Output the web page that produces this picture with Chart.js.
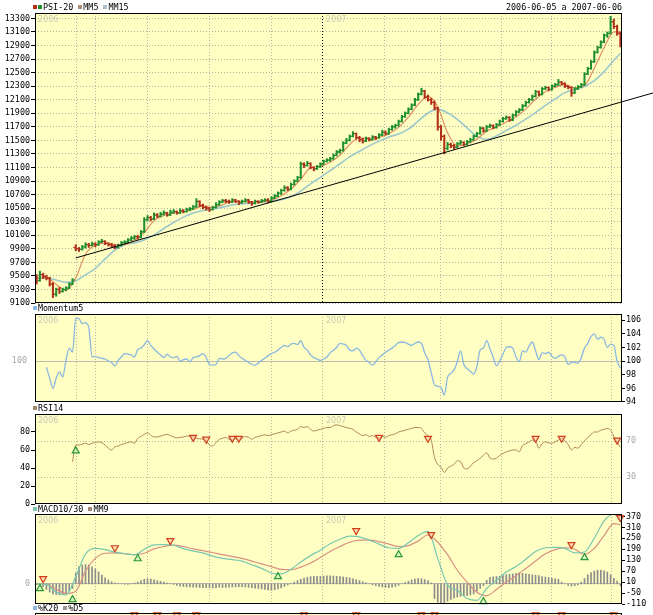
<!DOCTYPE html>
<html>
<head>
<meta charset="utf-8">
<title>PSI-20</title>
<script src="https://cdn.jsdelivr.net/npm/chart.js@4.4.1/dist/chart.umd.min.js"></script>
<style>
  body { margin: 0; width: 653px; height: 615px; overflow: hidden; background: #fff; position: relative;
         font-family: 'DejaVu Sans Mono', monospace; font-size: 8.4px; color: #000; }
  canvas { position: absolute; left: 0; }
  .lbl { position: absolute; white-space: nowrap; line-height: 9px; z-index: 2; }
  .sq { display: inline-block; width: 4px; height: 4px; margin-right: 1px; vertical-align: 1px; }
</style>
</head>
<body>
<div class="lbl" style="left:33px;top:3px"><span class="sq" style="background:#b03018"></span><span class="sq" style="background:#1f8f2f"></span>PSI-20 <span class="sq" style="background:#a89070"></span>MM5 <span class="sq" style="background:#a8c4cc"></span>MM15</div>
<div class="lbl" style="right:31px;top:3px">2006-06-05 a 2007-06-06</div>
<div class="lbl" style="left:33px;top:304px"><span class="sq" style="background:#8ab8e0"></span>Momentum5</div>
<div class="lbl" style="left:33px;top:404px"><span class="sq" style="background:#a08870"></span>RSI14</div>
<div class="lbl" style="left:33px;top:505px"><span class="sq" style="background:#78c8b0"></span>MACD10/30 <span class="sq" style="background:#a08878"></span>MM9</div>
<div class="lbl" style="left:33px;top:604px"><span class="sq" style="background:#8ab8e0"></span>%K20 <span class="sq" style="background:#a09890"></span>%D5</div>

<canvas id="price" width="653" height="312" style="top:0"></canvas>
<canvas id="mom" width="653" height="106" style="top:305px"></canvas>
<canvas id="rsi" width="653" height="106" style="top:406px"></canvas>
<canvas id="macd" width="653" height="109" style="top:506px"></canvas>
<canvas id="stoch" width="653" height="50" style="top:604px"></canvas>

<script>
// ---- data ----
const yearNames = ['2006', '2007'];
// x positions (bar index) of the dotted month lines, the 2007 one drawn dark
const monthLines = [12.1, 18.2, 33.9, 52.9, 71.9, 87.8, 106.6, 123.7, 142.4, 157.8, 176.2];
const yearLine = 87.8;

const opens = [
  9480, 9430, 9520, 9490, 9470, 9380, 9230, 9300, 9270, 9300, 9320, 9380,
  9920, 9900, 9890, 9930, 9960, 9950, 9970, 9960, 10000, 10010, 9980, 9960, 9940, 9920, 9950, 9990, 10000, 10030, 10060, 10080, 10070, 10150,
  10330, 10360, 10340, 10400, 10380, 10410, 10430, 10400, 10440, 10450, 10430, 10460, 10450, 10480, 10490, 10520, 10600, 10540, 10510, 10500, 10480, 10510,
  10550, 10590, 10610, 10600, 10590, 10620, 10600, 10580, 10600, 10620, 10590, 10570, 10600, 10590, 10610, 10620,
  10600, 10650, 10680, 10720, 10760, 10800, 10780, 10850, 10900, 10950, 11150, 11130, 11160, 11100, 11080, 11110, 11150, 11190, 11210,
  11230, 11280, 11330, 11350, 11460, 11500, 11560, 11600, 11540, 11510, 11490, 11530, 11510, 11550, 11540, 11580, 11620, 11600, 11660, 11700,
  11720, 11780, 11850, 11900, 11960, 12020, 12100, 12180, 12230, 12140, 12100, 12060, 11980, 11700, 11560, 11380,
  11440, 11420, 11400, 11450, 11470, 11440, 11480, 11510, 11560, 11600, 11680, 11640, 11700, 11720, 11690, 11730, 11780, 11820, 11840, 11800, 11870, 11920, 11950, 12010,
  12060, 12100, 12150, 12220, 12180, 12260, 12280, 12250, 12300, 12320, 12360, 12340, 12300, 12280, 12200, 12260, 12290, 12320, 12480, 12560, 12660, 12800, 12870, 12950, 13050, 13080, 13250, 13180, 13080
];
const highs = [
  9520, 9570, 9540, 9510, 9480, 9400, 9320, 9330, 9320, 9340, 9400, 9460,
  9960, 9920, 9950, 9990, 9980, 10000, 9990, 10020, 10040, 10020, 9990, 9980, 9960, 9970, 10010, 10020, 10050, 10080, 10100, 10100, 10170, 10360,
  10390, 10380, 10430, 10420, 10440, 10460, 10440, 10470, 10480, 10460, 10490, 10480, 10500, 10510, 10540, 10640, 10610, 10560, 10530, 10510, 10530, 10580,
  10610, 10630, 10630, 10620, 10640, 10630, 10610, 10620, 10640, 10630, 10600, 10620, 10610, 10630, 10640, 10640,
  10670, 10700, 10740, 10780, 10830, 10820, 10870, 10920, 10970, 11180, 11170, 11190, 11170, 11110, 11130, 11170, 11210, 11230, 11250,
  11300, 11350, 11370, 11480, 11530, 11580, 11630, 11610, 11560, 11530, 11550, 11540, 11570, 11560, 11600, 11650, 11640, 11680, 11720, 11740,
  11800, 11870, 11920, 11980, 12040, 12120, 12200, 12270, 12240, 12170, 12120, 12080, 11990, 11720, 11580, 11470,
  11460, 11440, 11470, 11500, 11480, 11500, 11530, 11580, 11620, 11700, 11690, 11720, 11740, 11730, 11750, 11800, 11840, 11860, 11850, 11890, 11940, 11970, 12030, 12080,
  12120, 12170, 12240, 12230, 12280, 12300, 12290, 12320, 12340, 12400, 12370, 12350, 12310, 12290, 12280, 12310, 12340, 12500, 12580, 12680, 12820, 12890, 12970, 13070, 13100, 13330, 13290, 13200, 13100
];
const lows = [
  9380, 9420, 9460, 9440, 9350, 9180, 9200, 9240, 9260, 9280, 9310, 9370,
  9870, 9860, 9880, 9910, 9920, 9940, 9930, 9950, 9990, 9960, 9940, 9920, 9900, 9910, 9940, 9970, 9990, 10020, 10040, 10040, 10060, 10140,
  10310, 10310, 10330, 10360, 10370, 10400, 10380, 10390, 10420, 10410, 10420, 10430, 10440, 10460, 10480, 10510, 10520, 10490, 10470, 10450, 10470, 10500,
  10540, 10580, 10580, 10570, 10580, 10580, 10550, 10570, 10590, 10570, 10540, 10560, 10570, 10580, 10600, 10580,
  10590, 10640, 10670, 10700, 10750, 10760, 10770, 10840, 10890, 10940, 11100, 11120, 11080, 11050, 11070, 11100, 11140, 11180, 11190,
  11220, 11270, 11310, 11340, 11450, 11490, 11550, 11520, 11480, 11460, 11480, 11490, 11500, 11510, 11530, 11570, 11580, 11590, 11650, 11680,
  11710, 11770, 11840, 11890, 11950, 12010, 12090, 12170, 12120, 12080, 12030, 11950, 11650, 11500, 11300, 11360,
  11390, 11370, 11390, 11440, 11420, 11430, 11470, 11500, 11550, 11590, 11620, 11630, 11690, 11670, 11680, 11720, 11770, 11810, 11780, 11790, 11860, 11910, 11940, 12000,
  12050, 12090, 12140, 12160, 12170, 12250, 12230, 12240, 12290, 12310, 12320, 12280, 12260, 12150, 12190, 12250, 12280, 12310, 12470, 12550, 12650, 12790, 12860, 12940, 13020, 13070, 13150, 13050, 12880
];
const closes = [
  9430, 9520, 9490, 9470, 9380, 9230, 9300, 9270, 9300, 9320, 9380, 9440,
  9900, 9890, 9930, 9960, 9950, 9970, 9960, 10000, 10010, 9980, 9960, 9940, 9920, 9950, 9990, 10000, 10030, 10060, 10080, 10070, 10150, 10330,
  10360, 10340, 10400, 10380, 10410, 10430, 10400, 10440, 10450, 10430, 10460, 10450, 10480, 10490, 10520, 10600, 10540, 10510, 10500, 10480, 10510, 10550,
  10590, 10610, 10600, 10590, 10620, 10600, 10580, 10600, 10620, 10590, 10570, 10600, 10590, 10610, 10620, 10600,
  10650, 10680, 10720, 10760, 10800, 10780, 10850, 10900, 10950, 11150, 11130, 11160, 11100, 11080, 11110, 11150, 11190, 11210, 11230,
  11280, 11330, 11350, 11460, 11500, 11560, 11600, 11540, 11510, 11490, 11530, 11510, 11550, 11540, 11580, 11620, 11600, 11660, 11700, 11720,
  11780, 11850, 11900, 11960, 12020, 12100, 12180, 12230, 12140, 12100, 12060, 11980, 11700, 11560, 11380, 11440,
  11420, 11400, 11450, 11470, 11440, 11480, 11510, 11560, 11600, 11680, 11640, 11700, 11720, 11690, 11730, 11780, 11820, 11840, 11800, 11870, 11920, 11950, 12010, 12060,
  12100, 12150, 12220, 12180, 12260, 12280, 12250, 12300, 12320, 12360, 12340, 12300, 12280, 12200, 12260, 12290, 12320, 12480, 12560, 12660, 12800, 12870, 12950, 13050, 13080, 13250, 13180, 13080, 12920
];
// moving averages, read every 3rd bar (plus the last one)
const mm5 = [9460, 9474, 9374, 9284, 9468, 9824, 9954, 9984, 9962, 9960, 10032, 10138, 10316, 10392, 10426,
  10446, 10480, 10532, 10508, 10548, 10602, 10598, 10592, 10592, 10614, 10682, 10782, 10926, 11098, 11120,
  11178, 11280, 11440, 11542, 11516, 11542, 11600, 11692, 11842, 12032, 12150, 11996, 11612, 11418, 11448,
  11518, 11636, 11696, 11772, 11850, 11962, 12108, 12218, 12282, 12324, 12276, 12310, 12564, 12866, 13102, 13102];
const mm15 = [9480, 9470, 9440, 9404, 9425, 9519, 9612, 9751, 9879, 9961, 9987, 10031, 10105, 10199, 10289,
  10367, 10429, 10466, 10484, 10515, 10546, 10565, 10574, 10595, 10603, 10626, 10669, 10751, 10857, 10955,
  11053, 11155, 11256, 11340, 11419, 11489, 11550, 11595, 11666, 11784, 11904, 11961, 11907, 11811, 11683,
  11563, 11515, 11566, 11644, 11724, 11814, 11911, 12016, 12111, 12205, 12253, 12295, 12381, 12515, 12682, 12783];
// trend line: [bar index, price] at both ends
const trendFrom = [12, 9765];
const trendTo = [189, 12200];

const momentum = [null, null, null,
  99.1, 97.5, 96.0, 97.5, 98.4, 97.7, 100.1, 101.9, 101.3,
  106.3, 106.2, 105.5, 105.6, 104.9, 100.6,
  100.7, 100.5, 100.4, 100.3, 100.0, 99.8, 99.3, 100.1, 100.6, 101.1, 101.0, 100.9, 100.6, 101.7, 101.9, 102.4, 103.0, 102.3, 101.8, 101.3,
  100.9, 100.5, 101.0, 100.6, 100.5, 100.7, 100.0, 100.2, 100.3, 99.9, 100.5, 100.6, 100.8, 101.1, 100.5, 99.5, 99.4, 99.5, 100.4,
  100.3, 100.4, 100.8, 101.2, 101.3, 100.8, 100.4, 100.1, 99.8, 99.5, 99.4, 99.7, 100.1, 100.4, 100.8, 101.1, 101.3, 101.6, 102.0, 102.3,
  102.1, 102.5, 102.6, 102.4, 103.0, 102.0, 101.6, 100.9, 100.5, 100.3, 100.1, 100.3, 100.6, 101.2, 101.6, 102.0, 102.6, 102.5, 102.3, 101.6,
  101.5, 101.9, 101.6, 100.8, 100.1, 99.8, 99.4, 99.9, 100.5, 100.9, 101.3, 101.6, 101.9, 102.3, 102.7, 102.8, 102.7, 102.5, 102.3, 102.6,
  102.8, 102.6, 101.2, 100.2,
  98.3, 96.5, 96.3, 96.2, 95.0, 97.6, 98.2, 98.7, 99.9, 101.5, 99.5, 98.9, 98.5, 98.1, 99.2, 101.6, 101.9, 103.0, 101.8, 100.6,
  99.3, 100.0, 101.0, 102.0, 102.1, 101.9, 100.6, 99.9, 101.5, 101.3, 102.2, 102.8, 101.5, 100.2, 101.2, 101.1, 101.3, 100.7, 100.4, 100.7,
  100.9, 100.6, 99.5, 99.8, 99.8, 99.7, 100.5, 101.9, 102.6, 103.6, 104.0, 103.2, 103.5, 103.2, 102.0, 102.5, 102.3, 100.0, 99.0
];

const rsi = [null, null, null, null, null, null, null, null, null, null, null,
  47, 65.5, 65.5, 66.5, 67.5, 66, 67.5, 68.5, 69, 68, 65.5, 62, 60, 63.5, 64.5, 66, 67, 68.5, 69, 67.5,
  73, 75, 77.5, 79, 76.5, 74.5, 74.5, 75.5, 76.5, 77.5, 76, 74.5, 73.5, 74, 74.5, 75.5, 75.5, 75, 73, 72.5, 72, 70, 65.5, 64.5, 68, 72,
  73, 74, 72, 71, 73, 71, 73, 75, 74, 72, 74, 75, 76, 77, 76, 77, 78, 79, 80, 81, 79, 81, 82, 83, 86, 85, 86, 83, 81, 82,
  83, 84, 85, 85, 87, 88, 87, 86, 85, 84, 83, 80, 78, 76, 77, 75, 76, 74, 73, 75, 74, 76, 77, 78, 80, 81, 82, 83, 84, 85, 85, 84, 79, 76, 71,
  52, 44, 41, 35, 40, 42, 44, 48, 47, 40, 39, 42, 46, 48, 51, 54, 57, 51, 50, 51, 54, 56, 58, 59, 60, 60, 58, 65, 67, 69,
  71, 70, 62, 67, 69, 68, 67.5, 69, 71, 73, 70, 66, 60, 63, 62, 66, 70, 74, 77, 80, 80, 82, 83, 84, 82, 75, 69, 63
];
const rsiSellIdx = [48, 52, 60, 62, 105, 120, 153, 161, 178];
const rsiSellVal = [74, 72, 73, 73, 74, 73, 73, 73, 71];
const rsiBuyIdx = [12];
const rsiBuyVal = [59];

// MACD line and its MM9, read every 3rd bar (plus the last one)
const macdLine = [0, -3, -45, -60, 40, 165, 195, 188, 174, 166, 159, 190, 214, 215, 212,
  193, 180, 170, 152, 140, 133, 125, 105, 85, 60, 55, 80, 120, 155, 185,
  220, 245, 262, 258, 240, 218, 198, 195, 225, 265, 288, 140, -5, -35, -80,
  -90, -25, 20, 65, 95, 135, 178, 198, 200, 195, 170, 175, 250, 345, 383, 345];
const macdSignal = [0, -3, -30, -52, -40, 70, 140, 168, 170, 166, 161, 168, 192, 205, 212,
  205, 192, 182, 172, 160, 150, 140, 125, 110, 95, 80, 78, 92, 115, 145,
  178, 205, 228, 240, 240, 232, 218, 205, 210, 235, 268, 228, 160, 75, 10,
  -45, -65, -30, 10, 45, 85, 125, 165, 188, 198, 190, 162, 195, 265, 330, 325];
const macdHist = [
  -5, -10, -15, -30, -45, -55, -58, -60, -55, -50, -40, -25,
  60, 95, 104, 106, 104, 93, 82, 66, 49, 33, 22, 12, 5, 2, 0, -2, -3, 0, 5,
  10, 18, 25, 28, 27, 22, 18, 14, 10, 5, 2, -3, -8, -12, -14, -16, -17, -18, -18, -19, -20, -20, -21, -22, -20, -18,
  -20, -19, -18, -17, -16, -15, -15, -17, -19, -21, -23, -25, -27, -30, -33, -35, -32, -28, -22, -14, -6, 2, 10, 18, 26,
  32, 36, 40, 41, 42, 42, 43, 44, 44, 43, 42, 40, 38, 36, 33, 28, 23, 18, 12, 6, 0, -5, -10, -14, -17, -19, -20, -18, -14, -8,
  0, 8, 15, 22, 27, 30, 28, 24, 18, 5,
  -80, -100, -105, -103, -95, -85, -78, -72, -68, -65, -65, -60, -55, -40, -25, -10, 20, 35, 38, 40, 42, 45, 50, 52, 55,
  58, 60, 58, 55, 52, 50, 48, 45, 40, 38, 35, 30, 28, 25, 10, 0, -8, -12, -10, -5, 10, 30, 50, 62, 70, 75, 75, 72, 65, 50, 30, 15, -10
];
const macdBuyIdx = [1, 11, 31, 74, 111, 137, 168];
const macdBuyVal = [-26, -86, 138, 40, 160, -97, 144];
const macdSellIdx = [2, 24, 41, 98, 121, 164, 179];
const macdSellVal = [29, 198, 237, 292, 270, 215, 363];

const stochSellIdx = [30, 37, 43, 49, 82, 98, 118, 122, 153, 161, 177];
const stochSellVal = [95, 95, 95, 95, 95, 95, 95, 95, 95, 95, 95];

const priceTicks = [9100, 9300, 9500, 9700, 9900, 10100, 10300, 10500, 10700, 10900, 11100,
  11300, 11500, 11700, 11900, 12100, 12300, 12500, 12700, 12900, 13100, 13300];
const momTicks = [94, 96, 98, 100, 102, 104, 106];
const rsiTicks = [0, 20, 40, 60, 80];
const rsiBands = [30, 70];
const macdTicks = [-110, -50, 10, 70, 130, 190, 250, 310, 370];

// ---- styling ----
const plotBg = '#ffffc4';
const upColor = '#1f8f2f';
const downColor = '#b03018';
const gridGray = '#b4b4a0';
const tickFont = {family: 'DejaVu Sans Mono', size: 8.4};

Chart.defaults.animation = false;
Chart.defaults.font.family = 'DejaVu Sans Mono';

const N = closes.length;
const idx = closes.map((c, i) => i);
const smoothIdx = [];
for (let i = 0; i < N; i += 3) smoothIdx.push(i);
smoothIdx.push(N - 1);

function xAxis(darkYear) {
  return {
    type: 'linear', min: -0.5, max: N - 0.5, offset: false,
    afterBuildTicks: s => { s.ticks = monthLines.map(v => ({value: v})); },
    afterFit: s => { s.height = 0; },
    ticks: {display: false},
    grid: {
      offset: false, drawTicks: false, lineWidth: 1,
      color: c => (darkYear && c.tick && c.tick.value === yearLine) ? '#000' : gridGray
    },
    border: {display: false, dash: [1, 2]}
  };
}

function yAxis(o) {
  return {
    type: 'linear', position: o.pos, min: o.min, max: o.max,
    afterBuildTicks: s => { s.ticks = (o.ticks || []).map(v => ({value: v})); },
    afterFit: s => { s.width = o.pos === 'left' ? 35 : 31; },
    ticks: {
      display: !!o.ticks, font: o.font || tickFont, color: o.labelColor || '#000',
      padding: o.pad == null ? 1 : o.pad, autoSkip: false, callback: v => String(v)
    },
    grid: {
      display: !!o.ticks, drawOnChartArea: !!o.gridColor, color: o.gridColor || 'rgba(0,0,0,0)',
      drawTicks: true, tickLength: o.tickLen == null ? 4 : o.tickLen,
      tickColor: o.tickColor || '#000', tickBorderDash: []
    },
    border: {display: false, dash: o.dash || []}
  };
}

const panelPlugin = {
  id: 'panel',
  beforeDraw(chart) {
    const {ctx, chartArea: a} = chart;
    ctx.save();
    ctx.fillStyle = plotBg;
    ctx.fillRect(a.left, a.top, a.right - a.left, a.bottom - a.top);
    ctx.restore();
  },
  beforeDatasetsDraw(chart) {
    const {ctx, chartArea: a} = chart;
    ctx.save();
    ctx.fillStyle = '#c8c8b8';
    ctx.font = '8px "DejaVu Sans"';
    ctx.textBaseline = 'top';
    ctx.fillText(yearNames[0], a.left + 3, a.top + 3);
    ctx.fillText(yearNames[1], chart.scales.x.getPixelForValue(yearLine) + 3, a.top + 3);
    ctx.restore();
  },
  afterDraw(chart) {
    const {ctx, chartArea: a} = chart;
    ctx.save();
    ctx.strokeStyle = '#000';
    ctx.lineWidth = 1;
    ctx.strokeRect(Math.round(a.left) + 0.5, Math.round(a.top) + 0.5,
      Math.round(a.right - a.left) - 1, Math.round(a.bottom - a.top) - 1);
    ctx.restore();
  }
};

function baseOptions(padTop, padBottom, darkYear, scales) {
  return {
    responsive: false, animation: false, events: [],
    layout: {padding: {top: padTop, bottom: padBottom, left: 0, right: 0}},
    plugins: {legend: {display: false}, tooltip: {enabled: false}},
    scales: Object.assign({x: xAxis(darkYear)}, scales)
  };
}

function lineSet(xs, ys, color, order, width) {
  const pts = [];
  xs.forEach((x, k) => { if (ys[k] != null) pts.push({x: x, y: ys[k]}); });
  return {type: 'line', data: pts, borderColor: color, borderWidth: width || 1, pointRadius: 0,
    cubicInterpolationMode: 'monotone', order: order};
}

function marks(xs, ys, down) {
  return {
    type: 'line', data: xs.map((x, k) => ({x: x, y: ys[k]})), showLine: false,
    pointStyle: 'triangle', pointRotation: down ? 180 : 0, pointRadius: 4, pointBorderWidth: 1.2,
    pointBorderColor: down ? '#d0401c' : '#2a9a3a',
    pointBackgroundColor: down ? 'rgba(255,200,170,0.55)' : 'rgba(200,240,190,0.55)',
    clip: false, order: 0
  };
}

// ---- price panel ----
const barCol = idx.map(i => closes[i] >= opens[i] ? upColor : downColor);
new Chart(document.getElementById('price'), {
  type: 'line',
  data: {datasets: [
    {type: 'line', data: [{x: trendFrom[0], y: trendFrom[1]}, {x: trendTo[0], y: trendTo[1]}],
      borderColor: '#000', borderWidth: 1, pointRadius: 0, clip: false, order: 0},
    {type: 'line', data: idx.map(i => ({x: i - 0.4, y: opens[i]})), showLine: false,
      pointStyle: 'line', pointRadius: 1.2, pointBorderWidth: 1, pointBorderColor: barCol, order: 1},
    {type: 'line', data: idx.map(i => ({x: i + 0.4, y: closes[i]})), showLine: false,
      pointStyle: 'line', pointRadius: 1.2, pointBorderWidth: 1, pointBorderColor: barCol, order: 1},
    {type: 'bar', data: idx.map(i => ({x: i, y: [lows[i], highs[i]]})), backgroundColor: barCol,
      barThickness: 1.4, grouped: false, order: 2},
    lineSet(smoothIdx, mm5, '#e09060', 3, 1.2),
    lineSet(smoothIdx, mm15, '#9cc8cc', 4, 1.6)
  ]},
  options: baseOptions(13, 9, true, {
    y: yAxis({pos: 'left', min: 9100, max: 13380, ticks: priceTicks, gridColor: gridGray, dash: [1, 2]}),
    y2: yAxis({pos: 'right', min: 9100, max: 13380})
  }),
  plugins: [panelPlugin]
});

// ---- momentum panel ----
new Chart(document.getElementById('mom'), {
  type: 'line',
  data: {datasets: [lineSet(idx, momentum, '#8ab8e0', 1, 1.3)]},
  options: baseOptions(8, 8, false, {
    y: yAxis({pos: 'right', min: 94, max: 106.9, ticks: momTicks, tickLen: 3}),
    y2: yAxis({pos: 'left', min: 94, max: 106.9, ticks: [100], gridColor: '#bcbcb0',
      labelColor: '#a8a8a8', tickColor: 'rgba(0,0,0,0)', pad: 4})
  }),
  plugins: [panelPlugin]
});

// ---- RSI panel ----
new Chart(document.getElementById('rsi'), {
  type: 'line',
  data: {datasets: [
    marks(rsiSellIdx, rsiSellVal, true),
    marks(rsiBuyIdx, rsiBuyVal, false),
    lineSet(idx, rsi, '#b08858', 1)
  ]},
  options: baseOptions(8, 8, false, {
    y: yAxis({pos: 'left', min: 0, max: 100, ticks: rsiTicks}),
    y2: yAxis({pos: 'right', min: 0, max: 100, ticks: rsiBands, gridColor: gridGray, dash: [1, 2],
      labelColor: '#a8a8a8', tickColor: 'rgba(0,0,0,0)', tickLen: 3})
  }),
  plugins: [panelPlugin]
});

// ---- MACD panel ----
new Chart(document.getElementById('macd'), {
  type: 'line',
  data: {datasets: [
    marks(macdSellIdx, macdSellVal, true),
    marks(macdBuyIdx, macdBuyVal, false),
    lineSet(smoothIdx, macdLine, '#78c8b0', 1, 1.2),
    lineSet(smoothIdx, macdSignal, '#d89080', 2, 1.2),
    {type: 'bar', data: idx.map(i => ({x: i, y: macdHist[i]})), backgroundColor: '#8c8c8c',
      barThickness: 1, grouped: false, order: 3}
  ]},
  options: baseOptions(8, 11, false, {
    y: yAxis({pos: 'right', min: -110, max: 383, ticks: macdTicks, tickLen: 3}),
    y2: yAxis({pos: 'left', min: -110, max: 383, ticks: [0], gridColor: '#bcbcb0',
      labelColor: '#a8a8a8', tickColor: 'rgba(0,0,0,0)', pad: 1})
  }),
  plugins: [panelPlugin]
});

// ---- stochastic panel (only its top edge shows) ----
new Chart(document.getElementById('stoch'), {
  type: 'line',
  data: {datasets: [marks(stochSellIdx, stochSellVal, true)]},
  options: baseOptions(9, 5, false, {
    y: yAxis({pos: 'left', min: 0, max: 100}),
    y2: yAxis({pos: 'right', min: 0, max: 100})
  }),
  plugins: [panelPlugin]
});
</script>
</body>
</html>
